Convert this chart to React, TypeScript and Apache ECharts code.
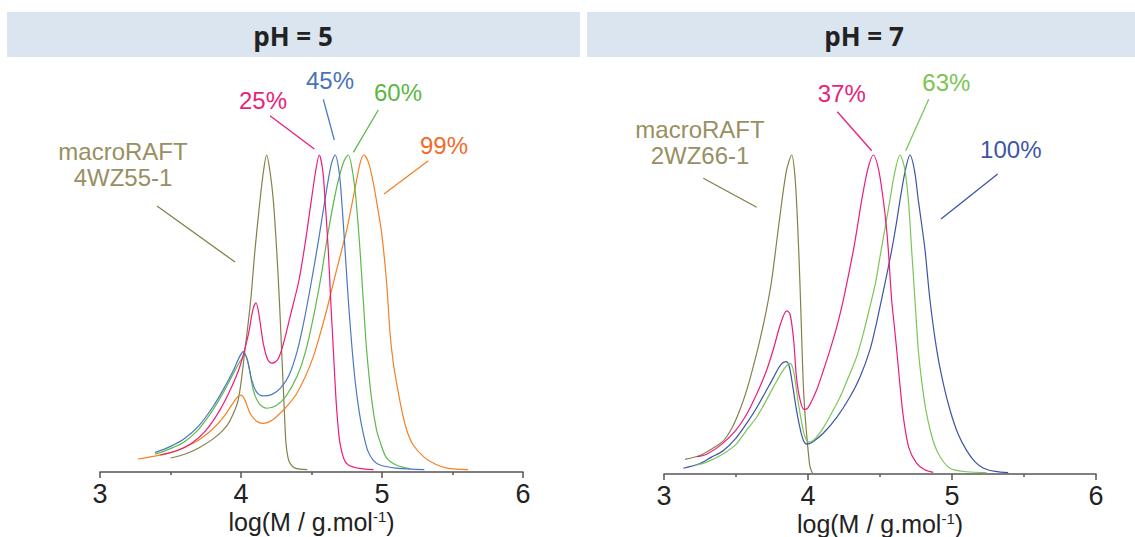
import React, { useEffect, useRef } from "react";
import * as echarts from "echarts";

// ---------- data: log(M) vs normalised signal ----------
const xTicks = [3, 4, 5, 6];

// pH = 5 panel
const ph5Macro = [[3.5,0.038],[3.6,0.05],[3.7,0.07],[3.8,0.098],[3.87,0.125],[3.92,0.155],[3.98,0.222],[4.028,0.381],[4.069,0.54],[4.099,0.698],[4.135,0.857],[4.16,0.95],[4.182,1.0],[4.205,0.95],[4.229,0.857],[4.253,0.698],[4.272,0.54],[4.288,0.381],[4.3,0.26],[4.31,0.16],[4.319,0.085],[4.333,0.04],[4.348,0.021],[4.383,0.006],[4.47,0.001]];
const ph5Conv25 = [[3.43,0.048],[3.55,0.062],[3.65,0.085],[3.75,0.125],[3.85,0.19],[3.93,0.26],[3.993,0.33],[4.052,0.43],[4.085,0.51],[4.106,0.531],[4.125,0.5],[4.158,0.402],[4.19,0.35],[4.218,0.339],[4.26,0.35],[4.3,0.4],[4.35,0.49],[4.41,0.6],[4.455,0.72],[4.5,0.86],[4.53,0.95],[4.555,1.0],[4.58,0.95],[4.596,0.857],[4.619,0.698],[4.636,0.54],[4.655,0.381],[4.674,0.222],[4.69,0.13],[4.702,0.085],[4.73,0.035],[4.761,0.016],[4.84,0.005],[4.94,0.001]];
const ph5Conv45 = [[3.39,0.055],[3.5,0.075],[3.6,0.1],[3.7,0.14],[3.8,0.2],[3.88,0.26],[3.95,0.32],[3.99,0.36],[4.016,0.376],[4.045,0.35],[4.076,0.286],[4.11,0.248],[4.158,0.235],[4.22,0.24],[4.28,0.26],[4.34,0.3],[4.4,0.38],[4.45,0.48],[4.5,0.6],[4.55,0.73],[4.6,0.87],[4.64,0.97],[4.667,1.0],[4.695,0.95],[4.714,0.857],[4.738,0.698],[4.761,0.54],[4.785,0.4],[4.81,0.28],[4.84,0.18],[4.87,0.11],[4.9,0.06],[4.94,0.03],[4.986,0.016],[5.1,0.006],[5.3,0.001]];
const ph5Conv60 = [[3.39,0.05],[3.5,0.068],[3.6,0.09],[3.7,0.13],[3.8,0.19],[3.88,0.25],[3.95,0.31],[4.0,0.35],[4.028,0.365],[4.055,0.33],[4.087,0.254],[4.13,0.21],[4.182,0.196],[4.25,0.205],[4.32,0.235],[4.4,0.3],[4.46,0.38],[4.52,0.5],[4.57,0.62],[4.62,0.76],[4.68,0.9],[4.73,0.98],[4.761,1.0],[4.79,0.95],[4.816,0.857],[4.844,0.698],[4.867,0.54],[4.891,0.381],[4.927,0.222],[4.96,0.13],[4.986,0.09],[5.03,0.04],[5.1,0.016],[5.2,0.004]];
const ph5Conv99 = [[3.27,0.035],[3.4,0.045],[3.5,0.055],[3.6,0.072],[3.7,0.095],[3.8,0.13],[3.88,0.17],[3.94,0.21],[3.975,0.232],[3.998,0.238],[4.025,0.225],[4.064,0.18],[4.11,0.155],[4.158,0.148],[4.22,0.158],[4.277,0.18],[4.34,0.21],[4.395,0.243],[4.455,0.295],[4.513,0.36],[4.56,0.43],[4.608,0.508],[4.645,0.575],[4.678,0.635],[4.715,0.7],[4.749,0.76],[4.785,0.84],[4.82,0.92],[4.848,0.98],[4.872,1.0],[4.905,0.975],[4.939,0.91],[4.97,0.83],[4.998,0.751],[5.033,0.593],[5.057,0.434],[5.08,0.34],[5.104,0.275],[5.14,0.19],[5.175,0.127],[5.22,0.08],[5.3,0.04],[5.38,0.018],[5.46,0.006],[5.61,0.001]];

// pH = 7 panel
const ph7Macro = [[3.146,0.043],[3.25,0.055],[3.33,0.075],[3.41,0.1],[3.47,0.14],[3.52,0.19],[3.574,0.26],[3.62,0.335],[3.667,0.42],[3.71,0.51],[3.748,0.607],[3.8,0.79],[3.85,0.95],[3.887,1.0],[3.91,0.93],[3.928,0.78],[3.944,0.597],[3.956,0.43],[3.967,0.28],[3.98,0.18],[3.99,0.125],[4.002,0.065],[4.014,0.02],[4.03,0.0]];
const ph7Conv37 = [[3.227,0.051],[3.3,0.06],[3.4,0.09],[3.5,0.135],[3.574,0.185],[3.65,0.255],[3.71,0.32],[3.76,0.39],[3.81,0.47],[3.852,0.51],[3.875,0.5],[3.9,0.42],[3.92,0.3],[3.945,0.23],[3.972,0.2],[4.0,0.205],[4.06,0.261],[4.105,0.32],[4.153,0.387],[4.2,0.46],[4.245,0.544],[4.28,0.62],[4.315,0.7],[4.345,0.78],[4.373,0.858],[4.415,0.955],[4.454,1.0],[4.49,0.955],[4.523,0.858],[4.543,0.78],[4.558,0.7],[4.581,0.544],[4.6,0.46],[4.616,0.387],[4.64,0.27],[4.662,0.177],[4.7,0.08],[4.755,0.03],[4.81,0.01],[4.87,0.002]];
const ph7Conv63 = [[3.227,0.025],[3.3,0.035],[3.41,0.06],[3.5,0.09],[3.574,0.135],[3.65,0.18],[3.76,0.27],[3.83,0.325],[3.875,0.345],[3.9,0.32],[3.933,0.219],[3.96,0.15],[3.979,0.114],[4.005,0.097],[4.05,0.108],[4.106,0.142],[4.16,0.185],[4.222,0.238],[4.28,0.3],[4.338,0.366],[4.385,0.44],[4.43,0.523],[4.47,0.6],[4.5,0.68],[4.535,0.77],[4.569,0.858],[4.6,0.94],[4.639,1.0],[4.67,0.96],[4.697,0.858],[4.72,0.7],[4.743,0.544],[4.766,0.387],[4.795,0.27],[4.824,0.185],[4.87,0.1],[4.917,0.051],[4.986,0.015],[5.1,0.004],[5.24,0.001]];
const ph7Conv100 = [[3.134,0.015],[3.25,0.03],[3.33,0.05],[3.41,0.07],[3.5,0.11],[3.574,0.156],[3.65,0.21],[3.76,0.3],[3.81,0.34],[3.848,0.35],[3.87,0.335],[3.895,0.27],[3.92,0.198],[3.945,0.14],[3.967,0.104],[3.991,0.091],[4.03,0.097],[4.106,0.125],[4.2,0.175],[4.29,0.238],[4.36,0.3],[4.43,0.387],[4.475,0.47],[4.51,0.544],[4.55,0.63],[4.581,0.7],[4.612,0.78],[4.639,0.858],[4.675,0.95],[4.708,1.0],[4.74,0.95],[4.766,0.858],[4.79,0.78],[4.813,0.7],[4.847,0.544],[4.894,0.387],[4.94,0.28],[4.986,0.198],[5.04,0.125],[5.1,0.072],[5.16,0.035],[5.22,0.015],[5.3,0.005],[5.39,0.001]];

const panelTitles = ["pH = 5", "pH = 7"];
const labelsPh5 = ["macroRAFT\n4WZ55-1", "25%", "45%", "60%", "99%"];
const labelsPh7 = ["macroRAFT\n2WZ66-1", "37%", "63%", "100%"];
const axisTitle = "{a|log(M / g.mol}{b|-1}{a|)}";

const FONT = "'Liberation Sans', Arial, sans-serif";
const C = {
  olive: "#858049", oliveT: "#989062",
  pink: "#ec1c7c", pinkT: "#e8237a",
  blue5: "#4a78c0", blue5T: "#4a72b8",
  green5: "#5cb94a", green5T: "#5cb646",
  orange: "#f58025", orangeT: "#f26b2a",
  green7: "#7cc657", green7T: "#7cc452",
  blue7: "#3b55a3", blue7T: "#3d56a6",
};

function xAxisCfg(gridIndex: number) {
  return {
    type: "value", gridIndex, min: xTicks[0], max: xTicks[xTicks.length - 1], interval: 1,
    name: axisTitle, nameLocation: "middle", nameGap: 37, nameMoveOverlap: false,
    nameTextStyle: {
      lineHeight: 26,
      rich: {
        a: { fontSize: 25, color: "#222", fontFamily: FONT, lineHeight: 26 },
        b: { fontSize: 15, color: "#222", fontFamily: FONT, verticalAlign: "top", lineHeight: 26 },
      },
    },
    axisLine: { show: true, onZero: false, lineStyle: { color: "#555", width: 1.5 } },
    axisTick: { show: true, length: 6, lineStyle: { color: "#555", width: 1.5 } },
    minorTick: { show: true, splitNumber: 2, length: 3, lineStyle: { color: "#555", width: 1.5 } },
    splitLine: { show: false },
    minorSplitLine: { show: false },
    axisLabel: { fontSize: 27, lineHeight: 27, color: "#222", fontFamily: FONT, margin: 8 },
  };
}

function line(data: number[][], color: string, idx: number) {
  return {
    type: "line", data, xAxisIndex: idx, yAxisIndex: idx, showSymbol: false,
    smooth: 0.3,
    lineStyle: { color, width: 1.2 }, clip: false, silent: true,
  };
}

function label(text: string, x: number, y: number, color: string) {
  return {
    type: "text", x, y,
    style: { text, fill: color, font: `24px ${FONT}`, textAlign: "center", textVerticalAlign: "middle", lineHeight: 26 },
  };
}
function leader(x1: number, y1: number, x2: number, y2: number, color: string) {
  return { type: "line", shape: { x1, y1, x2, y2 }, style: { stroke: color, lineWidth: 1.3 } };
}

export default function App() {
  const ref = useRef<HTMLDivElement>(null);
  useEffect(() => {
    if (!ref.current) return;
    const chart = echarts.init(ref.current, null, { renderer: "svg" });
    chart.setOption({
      animation: false,
      backgroundColor: "#ffffff",
      grid: [
        { left: 100, width: 423, top: 139.25, height: 332.75, containLabel: false, outerBoundsMode: "none" },
        { left: 664, width: 432, top: 139.1, height: 334.9, containLabel: false, outerBoundsMode: "none" },
      ],
      xAxis: [xAxisCfg(0), xAxisCfg(1)],
      yAxis: [
        { type: "value", gridIndex: 0, min: -0.00635, max: 1.05, show: false, splitLine: { show: false } },
        { type: "value", gridIndex: 1, min: -0.00314, max: 1.05, show: false, splitLine: { show: false } },
      ],
      series: [
        line(ph5Macro, C.olive, 0),
        line(ph5Conv99, C.orange, 0),
        line(ph5Conv60, C.green5, 0),
        line(ph5Conv45, C.blue5, 0),
        line(ph5Conv25, C.pink, 0),
        line(ph7Macro, C.olive, 1),
        line(ph7Conv100, C.blue7, 1),
        line(ph7Conv63, C.green7, 1),
        line(ph7Conv37, C.pink, 1),
      ],
      graphic: [
        { type: "rect", shape: { x: 7, y: 12, width: 573, height: 45 }, style: { fill: "#dae5f0" } },
        { type: "rect", shape: { x: 587, y: 12, width: 548, height: 45 }, style: { fill: "#dae5f0" } },
        { type: "text", x: 293, y: 36, style: { text: panelTitles[0], fill: "#222", font: "bold 26px 'Open Sans', sans-serif", textAlign: "center", textVerticalAlign: "middle" } },
        { type: "text", x: 864, y: 36, style: { text: panelTitles[1], fill: "#222", font: "bold 26px 'Open Sans', sans-serif", textAlign: "center", textVerticalAlign: "middle" } },
        // pH 5 annotations
        label(labelsPh5[0], 123, 164, C.oliveT),
        leader(157, 206, 235, 262, C.olive),
        label(labelsPh5[1], 263, 100.5, C.pinkT),
        leader(270, 115.7, 314.3, 149, C.pink),
        label(labelsPh5[2], 330, 80.5, C.blue5T),
        leader(323.3, 99.3, 334.3, 140, C.blue5),
        label(labelsPh5[3], 398, 92.5, C.green5T),
        leader(378.3, 110, 353.3, 152.3, C.green5),
        label(labelsPh5[4], 444, 145.5, C.orangeT),
        leader(428.3, 160.7, 384, 194, C.orange),
        // pH 7 annotations
        label(labelsPh7[0], 700, 142, C.oliveT),
        leader(703.3, 178.3, 756.7, 207.3, C.olive),
        label(labelsPh7[1], 841.7, 93.8, C.pinkT),
        leader(837.3, 111.7, 871.7, 150.7, C.pink),
        label(labelsPh7[2], 946.3, 82.5, C.green7T),
        leader(928.7, 99.3, 905.7, 150.7, C.green7),
        label(labelsPh7[3], 1010.8, 149.8, C.blue7T),
        leader(997.7, 174, 941, 219, C.blue7),
      ],
    });
    return () => chart.dispose();
  }, []);
  return (
    <div
      ref={ref}
      style={{ position: "fixed", left: 0, top: 0, width: 1135, height: 537 }}
    />
  );
}
